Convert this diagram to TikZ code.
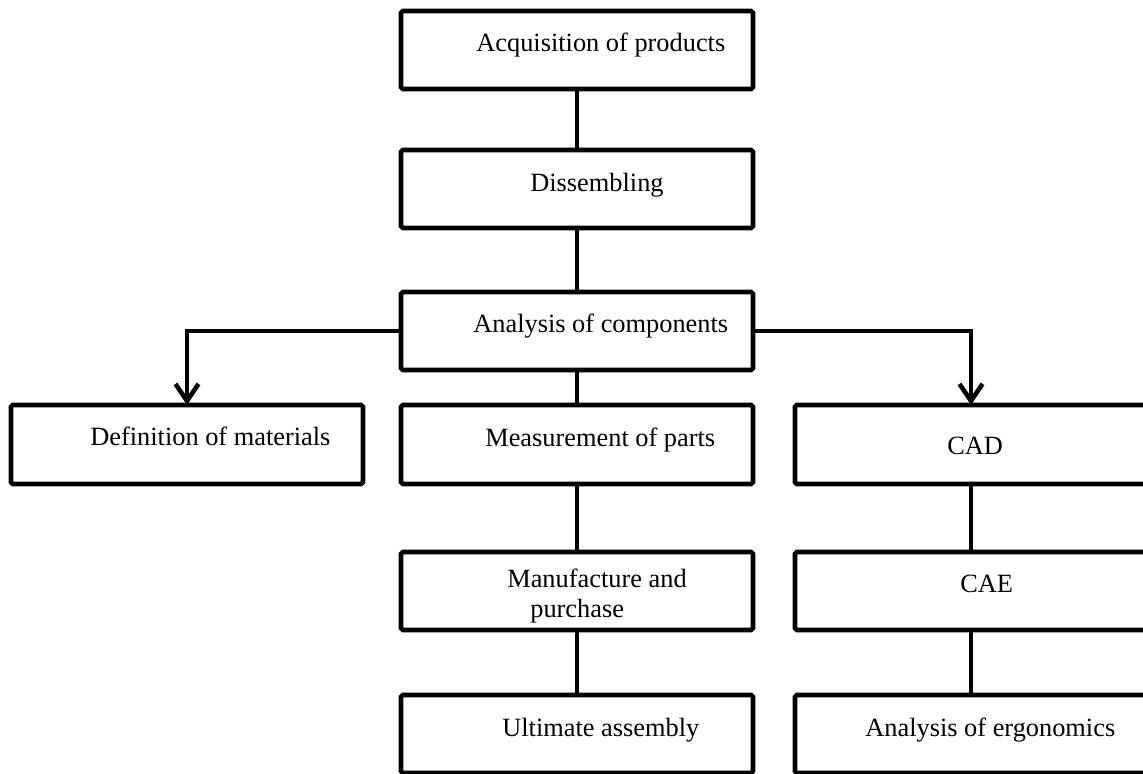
\documentclass[tikz,border=0pt]{standalone}
\usepackage{fontspec}
\setmainfont{Liberation Serif}
\usepackage{tikz}
\usetikzlibrary{arrows.meta}

\tikzset{
  box/.style={draw, line width=2.6pt, rounded corners=1pt, minimum width=7.04cm, minimum height=1.56cm, inner sep=0pt, outer sep=0pt},
  lbl/.style={anchor=base west, inner sep=0pt, font=\fontsize{15}{16}\selectfont},
  link/.style={line width=2.6pt},
  arr/.style={line width=2.6pt, -{Straight Barb[length=0.34cm, width=0.46cm, line width=2.6pt]}}
}

\begin{document}
\begin{tikzpicture}
\useasboundingbox (0,0) rectangle (22.86,15.46);

    \node[box] (acq) at (11.54,14.46) {};
    \node[box] (dis) at (11.54,11.68) {};
    \node[box] (ana) at (11.54,8.84) {};
    \node[box, minimum height=1.58cm] (def) at (3.74,6.57) {};
    \node[box, minimum height=1.58cm] (mea) at (11.54,6.57) {};
    \node[box, minimum height=1.58cm] (cad) at (19.42,6.57) {};
    \node[box] (man) at (11.54,3.64) {};
    \node[box] (cae) at (19.42,3.64) {};
    \node[box] (ult) at (11.54,0.78) {};
    \node[box] (erg) at (19.42,0.78) {};

    \node[lbl] (acq-t) at (9.52,14.42) {Acquisition of products};
    \node[lbl] (dis-t) at (10.60,11.62) {Dissembling};
    \node[lbl] (ana-t) at (9.46,8.81) {Analysis of components};
    \node[lbl] (def-t) at (1.80,6.55) {Definition of materials};
    \node[lbl] (mea-t) at (9.70,6.54) {Measurement of parts};
    \node[lbl] (cad-t) at (18.94,6.38) {CAD};
    \node[lbl, anchor=north west, align=left] (man-t) at (10.14,4.08) {Manufacture and\\[1pt]\hspace*{0.46cm}purchase};
    \node[lbl] (cae-t) at (19.20,3.61) {CAE};
    \node[lbl] (ult-t) at (10.04,0.74) {Ultimate assembly};
    \node[lbl] (erg-t) at (17.30,0.74) {Analysis of ergonomics};

    % draw the links
    \draw[link] (acq) -- (dis);
    \draw[link] (dis) -- (ana);
    \draw[link] (ana) -- (mea);
    \draw[link] (mea) -- (man);
    \draw[link] (man) -- (ult);
    \draw[link] (cad) -- (cae);
    \draw[link] (cae) -- (erg);

    % draw the arrows
    \draw[arr] (ana.west) -| (def.north);
    \draw[arr] (ana.east) -| (cad.north);

\end{tikzpicture}
\end{document}
